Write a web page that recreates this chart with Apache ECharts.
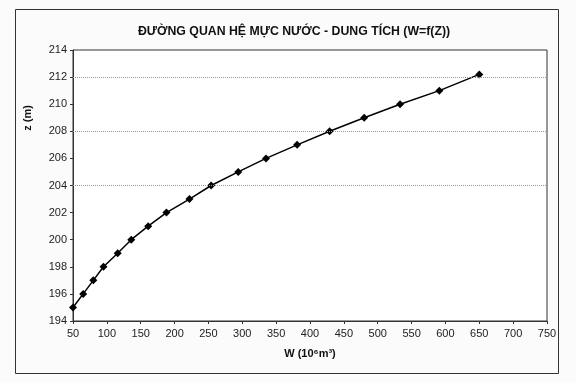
<!DOCTYPE html>
<html>
<head>
<meta charset="utf-8">
<script src="https://cdn.jsdelivr.net/npm/echarts@6/dist/echarts.min.js"></script>
<style>
html,body{margin:0;padding:0;background:#fbfbfb;}
#c{width:576px;height:382px;}
</style>
</head>
<body>
<div id="c"></div>
<script>
// Data
const volumeW = [50, 65, 80, 95, 116, 136, 161, 188, 222, 254, 294, 335, 381, 429, 480, 533, 591, 650];
const levelZ = [195, 196, 197, 198, 199, 200, 201, 202, 203, 204, 205, 206, 207, 208, 209, 210, 211, 212.2];
const gridLevels = [204, 208, 212];
const titleText = 'ĐƯỜNG QUAN HỆ MỰC NƯỚC - DUNG TÍCH (W=f(Z))';
const xName = 'W (10⁶m³)';
const yName = 'z (m)';

const points = volumeW.map((w, i) => [w, levelZ[i]]);
const font = '"Liberation Sans", Arial, sans-serif';

const chart = echarts.init(document.getElementById('c'));
chart.setOption({
  backgroundColor: '#fbfbfb',
  animation: false,
  title: {
    text: titleText,
    left: 289, top: 21, textAlign: 'center',
    textStyle: {fontFamily: font, fontSize: 12.3, fontWeight: 'bold', color: '#111'}
  },
  grid: {
    left: 73, right: 29, top: 50, bottom: 61,
    show: true, backgroundColor: '#ffffff', borderColor: '#333', borderWidth: 1
  },
  xAxis: {
    type: 'value', min: 50, max: 750, interval: 50,
    name: xName, nameLocation: 'middle', nameGap: 27,
    nameTextStyle: {fontFamily: font, fontSize: 11, fontWeight: 'bold', color: '#111'},
    axisLine: {show: true, lineStyle: {color: '#333'}},
    axisTick: {show: true, length: 3, lineStyle: {color: '#333'}},
    axisLabel: {fontFamily: font, fontSize: 11, color: '#222', margin: 7},
    splitLine: {show: false}
  },
  yAxis: {
    type: 'value', min: 194, max: 214, interval: 2,
    axisLine: {show: true, lineStyle: {color: '#333'}},
    axisTick: {show: true, length: 3, lineStyle: {color: '#333'}},
    axisLabel: {fontFamily: font, fontSize: 11, color: '#222', margin: 6},
    splitLine: {show: false}
  },
  graphic: [
    {type: 'rect', shape: {x: 15.5, y: 9.5, width: 543, height: 364},
     style: {fill: 'none', stroke: '#333', lineWidth: 1}, z: -1, silent: true},
    {type: 'text', x: 28, y: 118, rotation: Math.PI / 2,
     style: {text: yName, fontFamily: font, fontSize: 11, fontWeight: 'bold', fill: '#111',
             textAlign: 'center', textVerticalAlign: 'middle'}}
  ],
  series: [{
    type: 'line',
    data: points,
    symbol: 'diamond', symbolSize: 8,
    itemStyle: {color: '#000'},
    lineStyle: {color: '#000', width: 1.5},
    markLine: {
      silent: true, symbol: 'none', label: {show: false},
      lineStyle: {type: 'dotted', color: '#999', width: 1},
      data: gridLevels.map(v => ({yAxis: v}))
    }
  }]
});
</script>
</body>
</html>
